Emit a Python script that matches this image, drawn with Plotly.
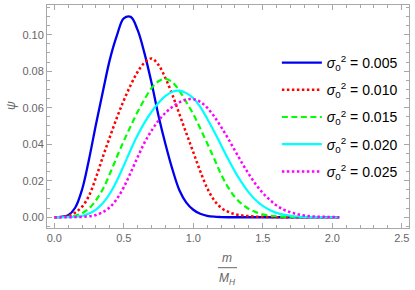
import plotly.graph_objects as go

# x grid: m / M_H
m_over_MH = [0.00, 0.05, 0.10, 0.15, 0.20, 0.25, 0.30, 0.35, 0.40, 0.45,
             0.50, 0.55, 0.60, 0.65, 0.70, 0.75, 0.80, 0.85, 0.90, 0.95,
             1.00, 1.05, 1.10, 1.15, 1.20, 1.25, 1.30, 1.35, 1.40, 1.45,
             1.50, 1.55, 1.60, 1.65, 1.70, 1.75, 1.80, 1.85, 1.90, 1.95,
             2.00, 2.05]

psi_0005 = [0, 0.0002, 0.0011, 0.0052, 0.0152, 0.0318, 0.0510, 0.0690, 0.0865, 0.0995,
            0.1090, 0.1098, 0.1025, 0.0895, 0.0735, 0.0555, 0.0400, 0.0262, 0.0148, 0.0080,
            0.0041, 0.0019, 0.0008, 0.0003, 0.0001, 0, 0, 0, 0, 0,
            0, 0, 0, 0, 0, 0, 0, 0, 0, 0,
            0, 0]

psi_0010 = [0, 0.0001, 0.0008, 0.0025, 0.0058, 0.0118, 0.0218, 0.0332, 0.0440, 0.0545,
            0.0640, 0.0725, 0.0797, 0.0848, 0.0870, 0.0834, 0.0762, 0.0670, 0.0565, 0.0460,
            0.0356, 0.0252, 0.0160, 0.0093, 0.0052, 0.0030, 0.0017, 0.0010, 0.0006, 0.0003,
            0.0002, 0.0001, 0.00005, 0, 0, 0, 0, 0, 0, 0,
            0, 0]

psi_0015 = [0, 0.0001, 0.0002, 0.0008, 0.0022, 0.0048, 0.0093, 0.0155, 0.0238, 0.0330,
            0.0418, 0.0500, 0.0578, 0.0648, 0.0708, 0.0745, 0.0758, 0.0740, 0.0693, 0.0630,
            0.0565, 0.0487, 0.0405, 0.0322, 0.0235, 0.0165, 0.0110, 0.0072, 0.0045, 0.0028,
            0.0016, 0.0009, 0.0005, 0.0003, 0.00015, 0.0001, 0.00005, 0, 0, 0,
            0, 0]

psi_0020 = [0, 0, 0.0001, 0.0003, 0.0007, 0.0020, 0.0042, 0.0078, 0.0130, 0.0200,
            0.0283, 0.0370, 0.0450, 0.0520, 0.0578, 0.0627, 0.0665, 0.0688, 0.0694, 0.0680,
            0.0652, 0.0605, 0.0540, 0.0470, 0.0395, 0.0320, 0.0250, 0.0188, 0.0135, 0.0093,
            0.0062, 0.0040, 0.0024, 0.0014, 0.0008, 0.0004, 0.0002, 0.0001, 0.00005, 0,
            0, 0]

psi_0025 = [0, 0, 0, 0.0001, 0.0002, 0.0005, 0.0012, 0.0028, 0.0055, 0.0100,
            0.0165, 0.0245, 0.0330, 0.0410, 0.0475, 0.0530, 0.0572, 0.0605, 0.0630, 0.0644,
            0.0647, 0.0632, 0.0600, 0.0553, 0.0495, 0.0432, 0.0365, 0.0298, 0.0236, 0.0180,
            0.0133, 0.0095, 0.0064, 0.0042, 0.0027, 0.0016, 0.0009, 0.0005, 0.0003, 0.0002,
            0.0001, 0]

sigma_labels = ["0.005", "0.010", "0.015", "0.020", "0.025"]
x_ticks = [0.0, 0.5, 1.0, 1.5, 2.0, 2.5]
y_ticks = [0.00, 0.02, 0.04, 0.06, 0.08, 0.10]

series = [psi_0005, psi_0010, psi_0015, psi_0020, psi_0025]
colors = ["#0000f0", "#ff0000", "#00ff00", "#00ffff", "#ff00ff"]
dashes = ["solid", "2.5px,2.5px", "6px,3.5px", "solid", "2.5px,2.5px"]
widths = [2.3, 2.5, 2.2, 2.2, 2.5]

fig = go.Figure()
for i, (ys, lab) in enumerate(zip(series, sigma_labels)):
    fig.add_trace(go.Scatter(
        x=m_over_MH, y=ys, mode="lines",
        line=dict(color=colors[i], dash=dashes[i], width=widths[i], shape="spline"),
        name="<i>σ</i><sub>0</sub><sup>2</sup> = " + lab,
        legendgroup=lab,
    ))

frame = "#a8a8a8"
labc = "#666666"
font_family = "Liberation Sans, Arial, sans-serif"

axis_common = dict(
    showline=True, linecolor=frame, linewidth=1, mirror="ticks",
    ticks="inside", ticklen=5, tickcolor=frame, tickwidth=1,
    showgrid=False, zeroline=False, automargin=False,
    tickfont=dict(family=font_family, size=11, color=labc),
)

fig.update_layout(
    width=415, height=290, autosize=False,
    margin=dict(l=47, r=6, t=5, b=62),
    paper_bgcolor="white", plot_bgcolor="white",
    xaxis=dict(range=[-0.0525, 2.552], tickvals=x_ticks, tickformat=".1f",
               minor=dict(dtick=0.1, ticks="inside", ticklen=3, tickcolor=frame, showgrid=False),
               **axis_common),
    yaxis=dict(range=[-0.0059, 0.1163], tickvals=y_ticks, tickformat=".2f",
               minor=dict(dtick=0.005, ticks="inside", ticklen=3, tickcolor=frame, showgrid=False),
               **axis_common),
    showlegend=True,
    legend=dict(x=0.635, y=0.8117, xanchor="left", yanchor="top",
                bgcolor="rgba(0,0,0,0)", borderwidth=0,
                font=dict(family=font_family, size=14, color="black"),
                tracegroupgap=6, itemwidth=40),
)

# axis labels
fig.add_annotation(text="<i>ψ</i>", xref="paper", yref="paper", x=-0.0994, y=0.547,
                   xanchor="center", yanchor="middle", textangle=-90, showarrow=False,
                   font=dict(family=font_family, size=12, color=labc))
fig.add_annotation(text="<i>m</i>", xref="paper", yref="paper", x=0.4986, y=-0.1345,
                   xanchor="center", yanchor="middle", showarrow=False,
                   font=dict(family=font_family, size=12, color=labc))
fig.add_annotation(text="<i>M</i><sub><i>H</i></sub>", xref="paper", yref="paper", x=0.4986, y=-0.228,
                   xanchor="center", yanchor="middle", showarrow=False,
                   font=dict(family=font_family, size=12, color=labc))
fig.add_shape(type="line", xref="paper", yref="paper", x0=0.4724, x1=0.5249,
              y0=-0.178, y1=-0.178, line=dict(color=labc, width=1))

fig.write_html("out.html",
               config={"displayModeBar": False},
               post_script="document.body.style.margin='0';document.body.style.overflow='hidden';")
